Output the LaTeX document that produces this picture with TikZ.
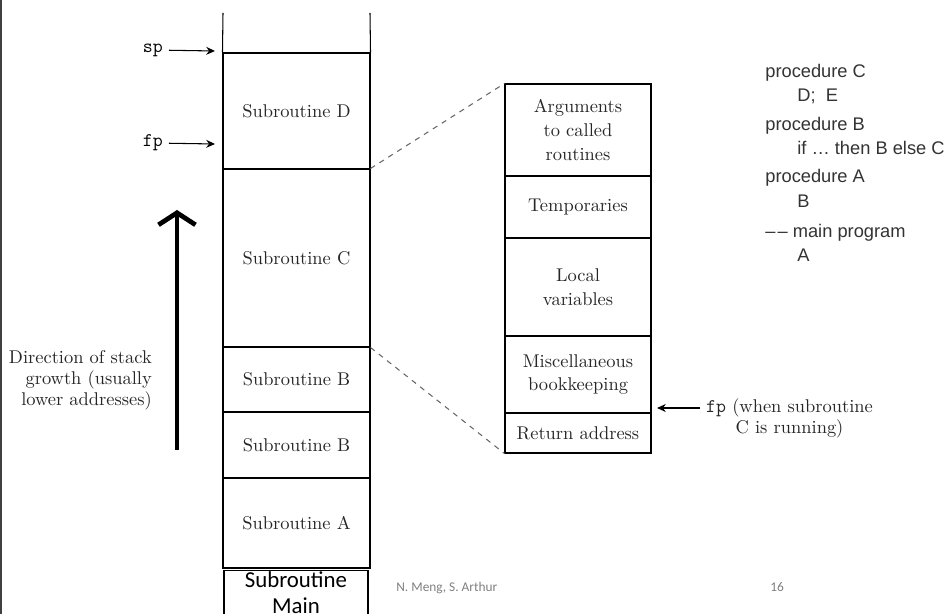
\documentclass[tikz,border=0pt]{standalone}
\usepackage{fontspec}
\newfontfamily\codefont{Liberation Sans}
\newfontfamily\slidefont{Carlito}
\usetikzlibrary{arrows.meta}

\begin{document}
\begin{tikzpicture}[
            x=0.02cm, y=-0.02cm,
            cell/.style={rectangle, draw, line width=0.6pt, minimum width=2.94cm, inner sep=0pt, align=center, text=black!85, font={\fontsize{10.5}{13.5}\selectfont}},
            ptr/.style={-{Stealth[length=5pt, width=4.5pt]}, line width=0.6pt},
            link/.style={dashed, line width=0.6pt, gray!80!black},
            growarrow/.style={-{Straight Barb[length=0.24cm, width=0.74cm]}, line width=2.7pt},
            note/.style={text=black!85, font={\fontsize{10.5}{12}\selectfont}},
            reg/.style={font={\ttfamily\fontsize{11}{12}\selectfont}},
            code/.style={anchor=base west, inner sep=0pt, text=black!80, font={\codefont\fontsize{10.4}{12}\selectfont}},
            slide/.style={anchor=base west, inner sep=0pt, text=gray, font={\slidefont\fontsize{7.6}{9}\selectfont}}
        ]
        \clip (0,0) rectangle (948,614);
        \draw[line width=1.2pt, black!75] (1,0) -- (1,614);

        % the run-time stack, frames piled upwards
        \node[cell, minimum height=2.32cm] (D) at (296.5,111) {Subroutine D};
        \node[cell, minimum height=3.56cm] (C) at (296.5,258) {Subroutine C};
        \node[cell, minimum height=1.30cm] (B1) at (296.5,379.5) {Subroutine B};
        \node[cell, minimum height=1.32cm] (B2) at (296.5,445) {Subroutine B};
        \node[cell, minimum height=1.80cm] (A) at (296.5,523) {Subroutine A};
        \node[cell, anchor=north, minimum width=2.88cm, minimum height=0.88cm, text=black,
            font={\slidefont\fontsize{13}{14.5}\selectfont}] (main) at (296,570) {Subroutine\\Main};
        % open top of the stack
        \coordinate (topL) at (223,13);
        \coordinate (topR) at (370,13);
        \draw[line width=0.6pt] (topL) -- (D.north west);
        \draw[line width=0.6pt] (topR) -- (D.north east);

        % sp and fp pointers
        \node[reg, anchor=east] (sp) at (169,50) {sp};
        \node[reg, anchor=east] (fp) at (169,143) {fp};
        \coordinate (spTip) at (215,51);
        \coordinate (fpTip) at (215,144);
        \draw[ptr] (sp) -- (spTip);
        \draw[ptr] (fp) -- (fpTip);

        % growth direction
        \coordinate (growBot) at (177,450);
        \coordinate (growTop) at (177,210);
        \draw[growarrow] (growBot) -- (growTop);
        \node[note, anchor=east, align=right] (dir) at (158,380)
            {Direction of stack\\growth (usually\\lower addresses)};

        % layout of one frame (C)
        \node[cell, minimum width=2.92cm, minimum height=1.84cm] (args) at (578,130) {Arguments\\to called\\routines};
        \node[cell, minimum width=2.92cm, minimum height=1.24cm] (temps) at (578,207) {Temporaries};
        \node[cell, minimum width=2.92cm, minimum height=1.96cm] (locals) at (578,287) {Local\\variables};
        \node[cell, minimum width=2.92cm, minimum height=1.54cm] (misc) at (578,374.5) {Miscellaneous\\bookkeeping};
        \node[cell, minimum width=2.92cm, minimum height=0.80cm] (ret) at (578,433) {Return address};
        \draw[link] (C.north east) -- (args.north west);
        \draw[link] (C.south east) -- (ret.south west);

        \node[note, anchor=west, align=center] (fpnote) at (700,418)
            {{\ttfamily\fontsize{11}{12}\selectfont fp} (when subroutine\\C is running)};
        \draw[ptr] ([yshift=0.2cm]fpnote.west) -- ++(-43,0);

        % the program
        \node[code] (c1) at (765,78) {procedure C};
        \node[code] (c2) at (797,102) {D;\ \ E};
        \node[code] (c3) at (765,131) {procedure B};
        \node[code] (c4) at (797,155) {if \textellipsis\ then B else C};
        \node[code] (c5) at (765,183) {procedure A};
        \node[code] (c6) at (797,208) {B};
        \node[code] (c7) at (765,238) {\textendash\kern1.2pt\textendash\ main program};
        \node[code] (c8) at (797,262) {A};

        % footer
        \node[slide] (authors) at (396,592) {N. Meng, S. Arthur};
        \node[slide] (page) at (770,592) {16};
    \end{tikzpicture}
\end{document}
